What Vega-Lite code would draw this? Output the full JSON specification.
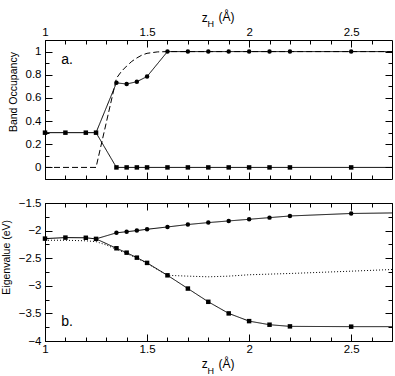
{
  "$schema": "https://vega.github.io/schema/vega-lite/v6.json",
  "padding": {"left": 0, "top": 10, "right": 0, "bottom": 0},
  "background": "white",
  "config": {
    "view": {"stroke": "black", "strokeWidth": 1},
    "axis": {
      "grid": false,
      "domain": false,
      "tickColor": "black",
      "tickWidth": 1,
      "labelColor": "black",
      "labelFont": "Liberation Sans",
      "labelFontSize": 11.5,
      "labelFlush": false,
      "labelOverlap": false,
      "titleColor": "black",
      "titleFont": "Liberation Sans",
      "titleFontSize": 10.5,
      "titleFontWeight": "normal",
      "titlePadding": 7
    }
  },
  "datasets": {
    "occ": [
      {"z": 1.25, "v": 0.3, "s": "A", "m": "none"},
      {"z": 1.35, "v": 0.73, "s": "A", "m": "circle"},
      {"z": 1.4, "v": 0.72, "s": "A", "m": "circle"},
      {"z": 1.45, "v": 0.74, "s": "A", "m": "circle"},
      {"z": 1.5, "v": 0.785, "s": "A", "m": "circle"},
      {"z": 1.6, "v": 1.0, "s": "A", "m": "circle"},
      {"z": 1.7, "v": 1.0, "s": "A", "m": "circle"},
      {"z": 1.8, "v": 1.0, "s": "A", "m": "circle"},
      {"z": 1.9, "v": 1.0, "s": "A", "m": "circle"},
      {"z": 2.0, "v": 1.0, "s": "A", "m": "circle"},
      {"z": 2.1, "v": 1.0, "s": "A", "m": "circle"},
      {"z": 2.2, "v": 1.0, "s": "A", "m": "circle"},
      {"z": 2.5, "v": 1.0, "s": "A", "m": "circle"},
      {"z": 2.7, "v": 1.0, "s": "A", "m": "none"},
      {"z": 1.0, "v": 0.3, "s": "B", "m": "square"},
      {"z": 1.1, "v": 0.3, "s": "B", "m": "square"},
      {"z": 1.2, "v": 0.3, "s": "B", "m": "square"},
      {"z": 1.25, "v": 0.3, "s": "B", "m": "square"},
      {"z": 1.35, "v": 0.0, "s": "B", "m": "square"},
      {"z": 1.4, "v": 0.0, "s": "B", "m": "square"},
      {"z": 1.45, "v": 0.0, "s": "B", "m": "square"},
      {"z": 1.5, "v": 0.0, "s": "B", "m": "square"},
      {"z": 1.6, "v": 0.0, "s": "B", "m": "square"},
      {"z": 1.7, "v": 0.0, "s": "B", "m": "square"},
      {"z": 1.8, "v": 0.0, "s": "B", "m": "square"},
      {"z": 1.9, "v": 0.0, "s": "B", "m": "square"},
      {"z": 2.0, "v": 0.0, "s": "B", "m": "square"},
      {"z": 2.1, "v": 0.0, "s": "B", "m": "square"},
      {"z": 2.2, "v": 0.0, "s": "B", "m": "square"},
      {"z": 2.5, "v": 0.0, "s": "B", "m": "square"},
      {"z": 2.7, "v": 0.0, "s": "B", "m": "none"},
      {"z": 1.0, "v": 0.0, "s": "C", "m": "none"},
      {"z": 1.25, "v": 0.0, "s": "C", "m": "none"},
      {"z": 1.35, "v": 0.77, "s": "C", "m": "none"},
      {"z": 1.375, "v": 0.83, "s": "C", "m": "none"},
      {"z": 1.4, "v": 0.875, "s": "C", "m": "none"},
      {"z": 1.425, "v": 0.915, "s": "C", "m": "none"},
      {"z": 1.45, "v": 0.945, "s": "C", "m": "none"},
      {"z": 1.475, "v": 0.97, "s": "C", "m": "none"},
      {"z": 1.5, "v": 0.985, "s": "C", "m": "none"},
      {"z": 1.55, "v": 0.997, "s": "C", "m": "none"},
      {"z": 1.6, "v": 1.0, "s": "C", "m": "none"},
      {"z": 2.7, "v": 1.0, "s": "C", "m": "none"}
    ],
    "eig": [
      {"z": 1.25, "v": -2.15, "s": "A", "m": "none"},
      {"z": 1.35, "v": -2.04, "s": "A", "m": "circle"},
      {"z": 1.4, "v": -2.02, "s": "A", "m": "circle"},
      {"z": 1.45, "v": -2.0, "s": "A", "m": "circle"},
      {"z": 1.5, "v": -1.976, "s": "A", "m": "circle"},
      {"z": 1.6, "v": -1.934, "s": "A", "m": "circle"},
      {"z": 1.7, "v": -1.89, "s": "A", "m": "circle"},
      {"z": 1.8, "v": -1.855, "s": "A", "m": "circle"},
      {"z": 1.9, "v": -1.825, "s": "A", "m": "circle"},
      {"z": 2.0, "v": -1.795, "s": "A", "m": "circle"},
      {"z": 2.1, "v": -1.765, "s": "A", "m": "circle"},
      {"z": 2.2, "v": -1.735, "s": "A", "m": "circle"},
      {"z": 2.5, "v": -1.69, "s": "A", "m": "circle"},
      {"z": 2.7, "v": -1.68, "s": "A", "m": "none"},
      {"z": 1.0, "v": -2.145, "s": "B", "m": "square"},
      {"z": 1.1, "v": -2.127, "s": "B", "m": "square"},
      {"z": 1.2, "v": -2.13, "s": "B", "m": "square"},
      {"z": 1.25, "v": -2.15, "s": "B", "m": "square"},
      {"z": 1.35, "v": -2.32, "s": "B", "m": "square"},
      {"z": 1.4, "v": -2.4, "s": "B", "m": "square"},
      {"z": 1.45, "v": -2.49, "s": "B", "m": "square"},
      {"z": 1.5, "v": -2.585, "s": "B", "m": "square"},
      {"z": 1.6, "v": -2.81, "s": "B", "m": "square"},
      {"z": 1.7, "v": -3.05, "s": "B", "m": "square"},
      {"z": 1.8, "v": -3.29, "s": "B", "m": "square"},
      {"z": 1.9, "v": -3.5, "s": "B", "m": "square"},
      {"z": 2.0, "v": -3.64, "s": "B", "m": "square"},
      {"z": 2.1, "v": -3.705, "s": "B", "m": "square"},
      {"z": 2.2, "v": -3.735, "s": "B", "m": "square"},
      {"z": 2.5, "v": -3.74, "s": "B", "m": "square"},
      {"z": 2.7, "v": -3.74, "s": "B", "m": "none"},
      {"z": 1.0, "v": -2.175, "s": "D", "m": "none"},
      {"z": 1.1, "v": -2.175, "s": "D", "m": "none"},
      {"z": 1.2, "v": -2.185, "s": "D", "m": "none"},
      {"z": 1.25, "v": -2.2, "s": "D", "m": "none"},
      {"z": 1.3, "v": -2.26, "s": "D", "m": "none"},
      {"z": 1.35, "v": -2.34, "s": "D", "m": "none"},
      {"z": 1.4, "v": -2.415, "s": "D", "m": "none"},
      {"z": 1.45, "v": -2.5, "s": "D", "m": "none"},
      {"z": 1.5, "v": -2.595, "s": "D", "m": "none"},
      {"z": 1.6, "v": -2.81, "s": "D", "m": "none"},
      {"z": 1.7, "v": -2.825, "s": "D", "m": "none"},
      {"z": 1.8, "v": -2.837, "s": "D", "m": "none"},
      {"z": 1.9, "v": -2.825, "s": "D", "m": "none"},
      {"z": 2.0, "v": -2.8, "s": "D", "m": "none"},
      {"z": 2.2, "v": -2.777, "s": "D", "m": "none"},
      {"z": 2.5, "v": -2.735, "s": "D", "m": "none"},
      {"z": 2.7, "v": -2.705, "s": "D", "m": "none"}
    ],
    "occPanel": [
      {"z": 1.08, "v": 0.89, "t": "a."}
    ],
    "eigPanel": [
      {"z": 1.08, "v": -3.73, "t": "b."}
    ],
    "occTitle": [
      {"z": 1.768, "v": 1.259, "t": "z", "k": "main"},
      {"z": 1.796, "v": 1.211, "t": "H", "k": "sub"},
      {"z": 1.85, "v": 1.263, "t": "(Å)", "k": "main"}
    ],
    "eigTitle": [
      {"z": 1.768, "v": -4.494, "t": "z", "k": "main"},
      {"z": 1.796, "v": -4.597, "t": "H", "k": "sub"},
      {"z": 1.85, "v": -4.497, "t": "(Å)", "k": "main"}
    ]
  },
  "vconcat": [
    {
      "width": 347,
      "height": 139,
      "resolve": {"axis": {"x": "independent", "y": "independent"}},
      "layer": [
        {
          "data": {"name": "occ"},
          "mark": {"type": "line", "color": "black", "strokeWidth": 1},
          "encoding": {
            "x": {"field": "z", "type": "quantitative",
              "scale": {"domain": [1, 2.7], "nice": false, "zero": false},
              "axis": {"orient": "top", "title": null, "values": [1, 1.5, 2, 2.5],
                "offset": -7, "tickSize": 7, "labelPadding": 3, "format": "~g"}},
            "y": {"field": "v", "type": "quantitative",
              "scale": {"domain": [-0.1, 1.1], "nice": false, "zero": false},
              "axis": {"orient": "left", "title": "Band Occupancy", "titleY": 51.6,
                "values": [0, 0.2, 0.4, 0.6, 0.8, 1],
                "offset": -7, "tickSize": 7, "labelPadding": 4, "format": "~g"}},
            "detail": {"field": "s"},
            "strokeDash": {"field": "s", "type": "nominal",
              "scale": {"domain": ["A", "B", "C", "D"], "range": [[1, 0], [1, 0], [6, 3], [1, 2]]}, "legend": null}
          }
        },
        {
          "data": {"name": "occ"},
          "transform": [{"filter": "datum.m != 'none'"}],
          "mark": {"type": "point", "filled": true, "color": "black", "size": 20, "opacity": 1},
          "encoding": {
            "x": {"field": "z", "type": "quantitative",
              "scale": {"domain": [1, 2.7], "nice": false, "zero": false},
              "axis": {"orient": "top", "title": null, "labels": false, "offset": -4, "tickSize": 4,
                "values": [1, 1.1, 1.2, 1.3, 1.4, 1.5, 1.6, 1.7, 1.8, 1.9, 2, 2.1, 2.2, 2.3, 2.4, 2.5, 2.6]}},
            "y": {"field": "v", "type": "quantitative",
              "scale": {"domain": [-0.1, 1.1], "nice": false, "zero": false},
              "axis": {"orient": "left", "title": null, "labels": false, "offset": -4, "tickSize": 4,
                "values": [0, 0.1, 0.2, 0.3, 0.4, 0.5, 0.6, 0.7, 0.8, 0.9, 1]}},
            "shape": {"field": "m", "type": "nominal",
              "scale": {"domain": ["circle", "square"], "range": ["circle", "square"]}, "legend": null}
          }
        },
        {
          "data": {"name": "occPanel"},
          "mark": {"type": "text", "align": "left", "baseline": "alphabetic", "color": "black", "font": "Liberation Sans", "fontSize": 14},
          "encoding": {
            "x": {"field": "z", "type": "quantitative", "scale": {"domain": [1, 2.7], "nice": false, "zero": false},
              "axis": {"orient": "bottom", "title": null, "labels": false, "offset": -7, "tickSize": 7, "values": [1, 1.5, 2, 2.5]}},
            "y": {"field": "v", "type": "quantitative", "scale": {"domain": [-0.1, 1.1], "nice": false, "zero": false},
              "axis": {"orient": "right", "title": null, "labels": false, "offset": -7, "tickSize": 7, "values": [0, 0.2, 0.4, 0.6, 0.8, 1]}},
            "text": {"field": "t"}
          }
        },
        {
          "data": {"name": "occTitle"},
          "mark": {"type": "text", "align": "left", "baseline": "alphabetic", "color": "black", "font": "Liberation Sans"},
          "encoding": {
            "x": {"field": "z", "type": "quantitative", "scale": {"domain": [1, 2.7], "nice": false, "zero": false},
              "axis": {"orient": "bottom", "title": null, "labels": false, "offset": -4, "tickSize": 4,
                "values": [1, 1.1, 1.2, 1.3, 1.4, 1.5, 1.6, 1.7, 1.8, 1.9, 2, 2.1, 2.2, 2.3, 2.4, 2.5, 2.6]}},
            "y": {"field": "v", "type": "quantitative", "scale": {"domain": [-0.1, 1.1], "nice": false, "zero": false},
              "axis": {"orient": "right", "title": null, "labels": false, "offset": -4, "tickSize": 4,
                "values": [0, 0.1, 0.2, 0.3, 0.4, 0.5, 0.6, 0.7, 0.8, 0.9, 1]}},
            "text": {"field": "t"},
            "size": {"field": "k", "type": "nominal",
              "scale": {"domain": ["main", "sub"], "range": [12, 9]}, "legend": null}
          }
        }
      ]
    },
    {
      "width": 347,
      "height": 138,
      "resolve": {"axis": {"x": "independent", "y": "independent"}},
      "layer": [
        {
          "data": {"name": "eig"},
          "mark": {"type": "line", "color": "black", "strokeWidth": 1},
          "encoding": {
            "x": {"field": "z", "type": "quantitative",
              "scale": {"domain": [1, 2.7], "nice": false, "zero": false},
              "axis": {"orient": "bottom", "title": null, "values": [1, 1.5, 2, 2.5],
                "offset": -7, "tickSize": 7, "labelPadding": 2, "format": "~g"}},
            "y": {"field": "v", "type": "quantitative",
              "scale": {"domain": [-4, -1.5], "nice": false, "zero": false},
              "axis": {"orient": "left", "title": "Eigenvalue  (eV)", "titleY": 53.8,
                "values": [-4, -3.5, -3, -2.5, -2, -1.5],
                "offset": -7, "tickSize": 7, "labelPadding": 4, "format": "~g"}},
            "detail": {"field": "s"},
            "strokeDash": {"field": "s", "type": "nominal",
              "scale": {"domain": ["A", "B", "C", "D"], "range": [[1, 0], [1, 0], [6, 3], [1, 2]]}, "legend": null}
          }
        },
        {
          "data": {"name": "eig"},
          "transform": [{"filter": "datum.m != 'none'"}],
          "mark": {"type": "point", "filled": true, "color": "black", "size": 20, "opacity": 1},
          "encoding": {
            "x": {"field": "z", "type": "quantitative",
              "scale": {"domain": [1, 2.7], "nice": false, "zero": false},
              "axis": {"orient": "bottom", "title": null, "labels": false, "offset": -4, "tickSize": 4,
                "values": [1, 1.1, 1.2, 1.3, 1.4, 1.5, 1.6, 1.7, 1.8, 1.9, 2, 2.1, 2.2, 2.3, 2.4, 2.5, 2.6]}},
            "y": {"field": "v", "type": "quantitative",
              "scale": {"domain": [-4, -1.5], "nice": false, "zero": false},
              "axis": {"orient": "left", "title": null, "labels": false, "offset": -4, "tickSize": 4,
                "values": [-4, -3.75, -3.5, -3.25, -3, -2.75, -2.5, -2.25, -2, -1.75, -1.5]}},
            "shape": {"field": "m", "type": "nominal",
              "scale": {"domain": ["circle", "square"], "range": ["circle", "square"]}, "legend": null}
          }
        },
        {
          "data": {"name": "eigPanel"},
          "mark": {"type": "text", "align": "left", "baseline": "alphabetic", "color": "black", "font": "Liberation Sans", "fontSize": 14},
          "encoding": {
            "x": {"field": "z", "type": "quantitative", "scale": {"domain": [1, 2.7], "nice": false, "zero": false},
              "axis": {"orient": "top", "title": null, "labels": false, "offset": -7, "tickSize": 7, "values": [1, 1.5, 2, 2.5]}},
            "y": {"field": "v", "type": "quantitative", "scale": {"domain": [-4, -1.5], "nice": false, "zero": false},
              "axis": {"orient": "right", "title": null, "labels": false, "offset": -7, "tickSize": 7, "values": [-4, -3.5, -3, -2.5, -2, -1.5]}},
            "text": {"field": "t"}
          }
        },
        {
          "data": {"name": "eigTitle"},
          "mark": {"type": "text", "align": "left", "baseline": "alphabetic", "color": "black", "font": "Liberation Sans"},
          "encoding": {
            "x": {"field": "z", "type": "quantitative", "scale": {"domain": [1, 2.7], "nice": false, "zero": false},
              "axis": {"orient": "top", "title": null, "labels": false, "offset": -4, "tickSize": 4,
                "values": [1, 1.1, 1.2, 1.3, 1.4, 1.5, 1.6, 1.7, 1.8, 1.9, 2, 2.1, 2.2, 2.3, 2.4, 2.5, 2.6]}},
            "y": {"field": "v", "type": "quantitative", "scale": {"domain": [-4, -1.5], "nice": false, "zero": false},
              "axis": {"orient": "right", "title": null, "labels": false, "offset": -4, "tickSize": 4,
                "values": [-4, -3.75, -3.5, -3.25, -3, -2.75, -2.5, -2.25, -2, -1.75, -1.5]}},
            "text": {"field": "t"},
            "size": {"field": "k", "type": "nominal",
              "scale": {"domain": ["main", "sub"], "range": [12, 9]}, "legend": null}
          }
        }
      ]
    }
  ],
  "spacing": 16
}
